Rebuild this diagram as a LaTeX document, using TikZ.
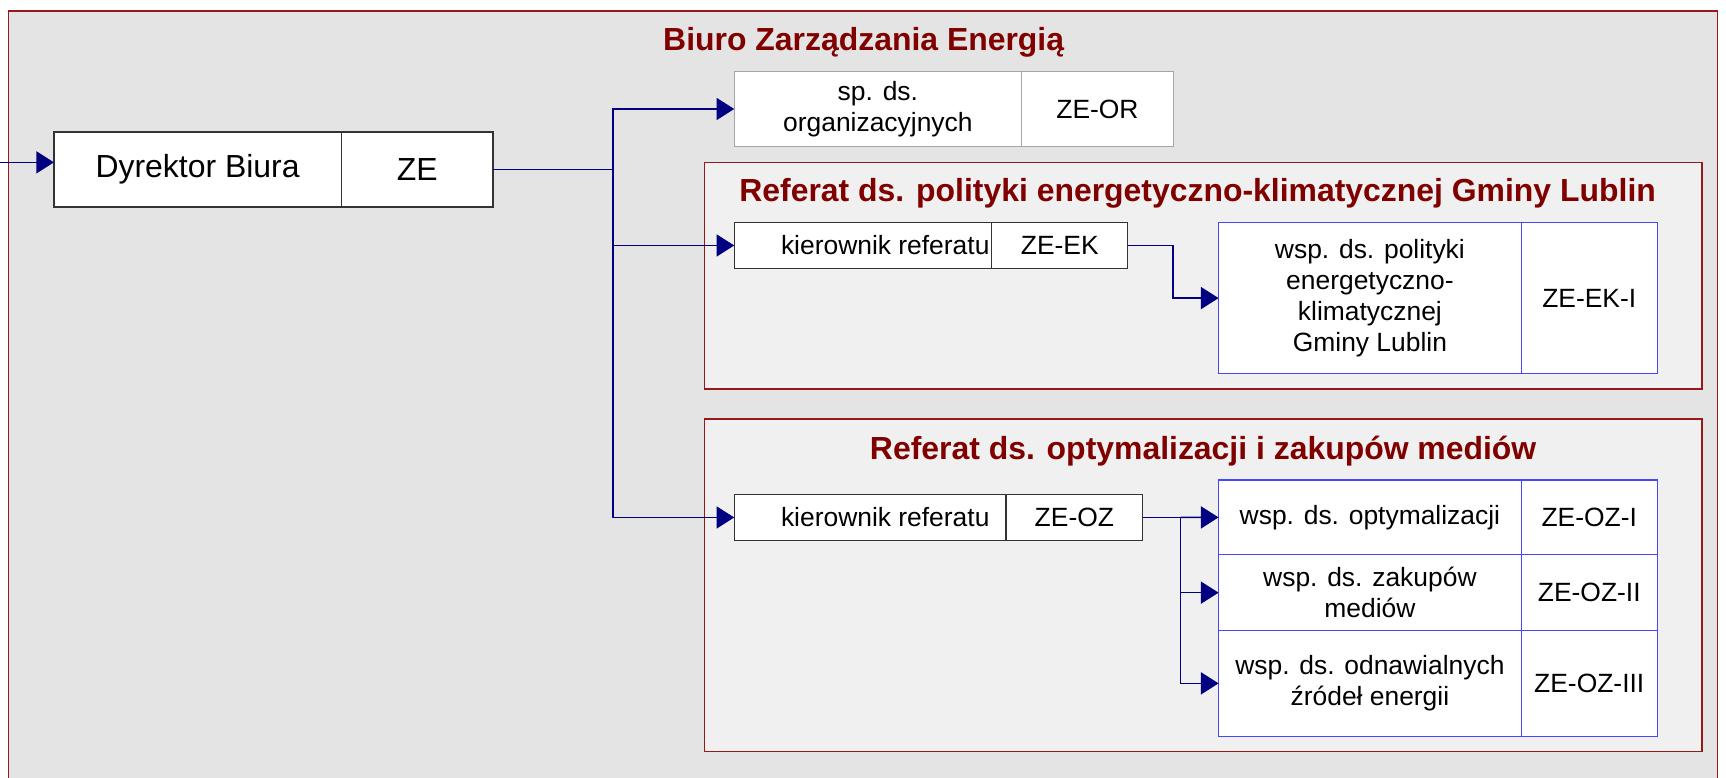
\documentclass[tikz,border=0pt]{standalone}
\usepackage{fontspec}
\setmainfont{Liberation Sans}
\usetikzlibrary{positioning, arrows.meta}
\definecolor{tlo}{RGB}{228,228,228}
\definecolor{tloref}{RGB}{240,240,240}
\definecolor{ramka}{RGB}{150,25,25}
\definecolor{bordo}{RGB}{128,0,0}
\definecolor{granat}{RGB}{0,0,128}
\definecolor{niebieski}{RGB}{70,70,250}
\newcommand\kier[1]{\makebox[#1][l]{kierownik referatu}}

\begin{document}
\begin{tikzpicture}[x=0.5pt, y=-0.5pt,
    cell/.style={draw=black!80, fill=white, line width=0.6pt, inner sep=2pt, outer sep=0pt,
      align=center, font=\fontsize{12}{14}\selectfont},
    szary/.style={cell, draw=black!35},
    wsp/.style={cell, draw=niebieski},
    tytul/.style={anchor=base, text=bordo, font=\fontsize{14.5}{17}\selectfont\bfseries},
    referat/.style={draw=ramka, fill=tloref, line width=0.6pt},
    conn/.style={draw=granat, line width=0.7pt},
    arr/.style={conn, -{Triangle[length=8pt, width=10pt]}}]
    \useasboundingbox (0,0) rectangle (1568,706);
    \draw[referat, fill=tlo] (7.6,10) rectangle (1560,720);
    \draw[referat] (640,147.5) rectangle (1546.3,353.4);
    \draw[referat] (640,380.6) rectangle (1546.3,682.8);

    \node[tytul] (biuro) at (784.6,45.5) {Biuro Zarządzania Energią};
    \node[tytul] (refek) at (1088,183.2) {Referat ds. polityki energetyczno-klimatycznej Gminy Lublin};
    \node[tytul] (refoz) at (1093,417) {Referat ds. optymalizacji i zakupów mediów};

    \node[cell, anchor=north west, minimum width=130.5pt, minimum height=34pt,
      font=\fontsize{14.5}{17}\selectfont] (dyr) at (49,120) {Dyrektor Biura};
    \node[cell, right=0pt of dyr, minimum width=69pt, minimum height=34pt,
      font=\fontsize{14.5}{17}\selectfont] (dyrkod) {ZE};

    \node[szary, anchor=north west, minimum width=130.5pt, minimum height=34pt] (spds) at (667,65) {sp. ds.\\organizacyjnych};
    \node[szary, right=0pt of spds, minimum width=69pt, minimum height=34pt] (spdskod) {ZE-OR};

    \node[cell, anchor=north west, minimum width=117pt, minimum height=21pt] (kierek) at (667,202) {\kier{74.5pt}};
    \node[cell, right=0pt of kierek, minimum width=61.75pt, minimum height=21pt] (kierekkod) {ZE-EK};

    \node[wsp, anchor=north west, minimum width=137.5pt, minimum height=68.5pt] (wspek) at (1107,202.3)
      {wsp. ds. polityki\\energetyczno-\\klimatycznej\\Gminy Lublin};
    \node[wsp, right=0pt of wspek, minimum width=61.75pt, minimum height=68.5pt] (wspekkod) {ZE-EK-I};

    \node[cell, anchor=north west, minimum width=123.5pt, minimum height=20.7pt] (kieroz) at (667,449.4) {\kier{81pt}};
    \node[cell, right=0pt of kieroz, minimum width=62pt, minimum height=20.7pt] (kierozkod) {ZE-OZ};

    \node[wsp, anchor=north west, minimum width=137.5pt, minimum height=34pt] (wspoz1) at (1107,436) {wsp. ds. optymalizacji};
    \node[wsp, right=0pt of wspoz1, minimum width=61.75pt, minimum height=34pt] (wspoz1kod) {ZE-OZ-I};
    \node[wsp, below=0pt of wspoz1, minimum width=137.5pt, minimum height=34.4pt] (wspoz2) {wsp. ds. zakupów\\mediów};
    \node[wsp, right=0pt of wspoz2, minimum width=61.75pt, minimum height=34.4pt] (wspoz2kod) {ZE-OZ-II};
    \node[wsp, below=0pt of wspoz2, minimum width=137.5pt, minimum height=48pt] (wspoz3) {wsp. ds. odnawialnych\\źródeł energii};
    \node[wsp, right=0pt of wspoz3, minimum width=61.75pt, minimum height=48pt] (wspoz3kod) {ZE-OZ-III};

    \coordinate (wej) at (0,147.5);
    \coordinate (pion) at (557,154);
    \draw[arr] (wej) -- (wej -| dyr.west);
    \draw[conn] (dyrkod.east) -- (pion);
    \draw[arr] (pion) |- (spds.west);
    \draw[arr] (pion) |- (kierek.west);
    \draw[arr] (pion) |- (kieroz.west);
    \draw[arr] (kierekkod.east) -- ++(41,0) |- (wspek.west);
    \draw[conn] (kierozkod.east) -- ++(34.5,0) coordinate (rozg);
    \draw[arr] (rozg) -- (wspoz1.west);
    \draw[arr] (rozg) |- (wspoz2.west);
    \draw[arr] (rozg) |- (wspoz3.west);
\end{tikzpicture}
\end{document}
